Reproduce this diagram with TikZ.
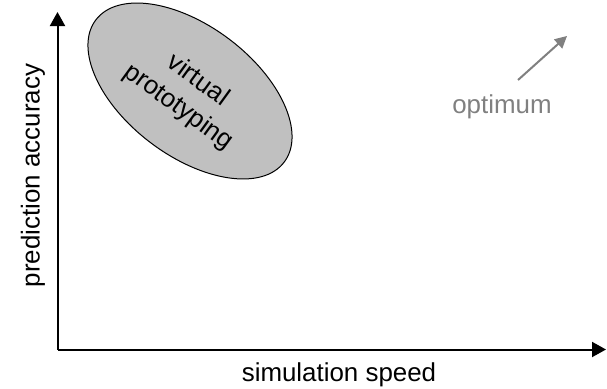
\documentclass[tikz,border=0pt]{standalone}
\usepackage{fontspec}
\setmainfont{Liberation Sans}
\usetikzlibrary{arrows.meta}
\definecolor{shade}{HTML}{C0C0C0}
\definecolor{hint}{HTML}{808080}
\tikzset{
  axis/.style={line width=2bp, -{Triangle[length=14bp,width=15bp]}},
  lbl/.style={font=\fontsize{26}{30}\selectfont, inner sep=0pt},
  region/.style={draw=black, line width=1bp, fill=shade},
  hintarrow/.style={draw=hint, line width=2bp, -{Triangle[length=12bp,width=12bp]}}
}
\begin{document}
\begin{tikzpicture}[x=1bp,y=1bp]
  \useasboundingbox (0,0) rectangle (607,388);
  % axes
  \coordinate (o) at (57.5,38.5);
  \coordinate (ytip) at (57.5,376);
  \coordinate (xtip) at (606,38.5);
  \draw[axis] (o) -- (ytip);
  \draw[axis] (o) -- (xtip);
  \node[lbl, anchor=base] (xlabel) at (339,6.5) {simulation speed};
  \node[lbl, rotate=90] (ylabel) at (33,212.5) {prediction accuracy};
  % design region
  \draw[region, rotate around={-37:(190,297)}] (190,297) ellipse [x radius=118, y radius=65];
  \node[lbl, font=\fontsize{26}{33}\selectfont, align=center, rotate=-36] (vp) at (188,294) {virtual\\prototyping};
  % direction of the optimum
  \coordinate (ostart) at (518,308);
  \coordinate (oend) at (567,352);
  \draw[hintarrow] (ostart) -- (oend);
  \node[lbl, text=hint, anchor=base] (opt) at (502,275) {optimum};
\end{tikzpicture}
\end{document}
